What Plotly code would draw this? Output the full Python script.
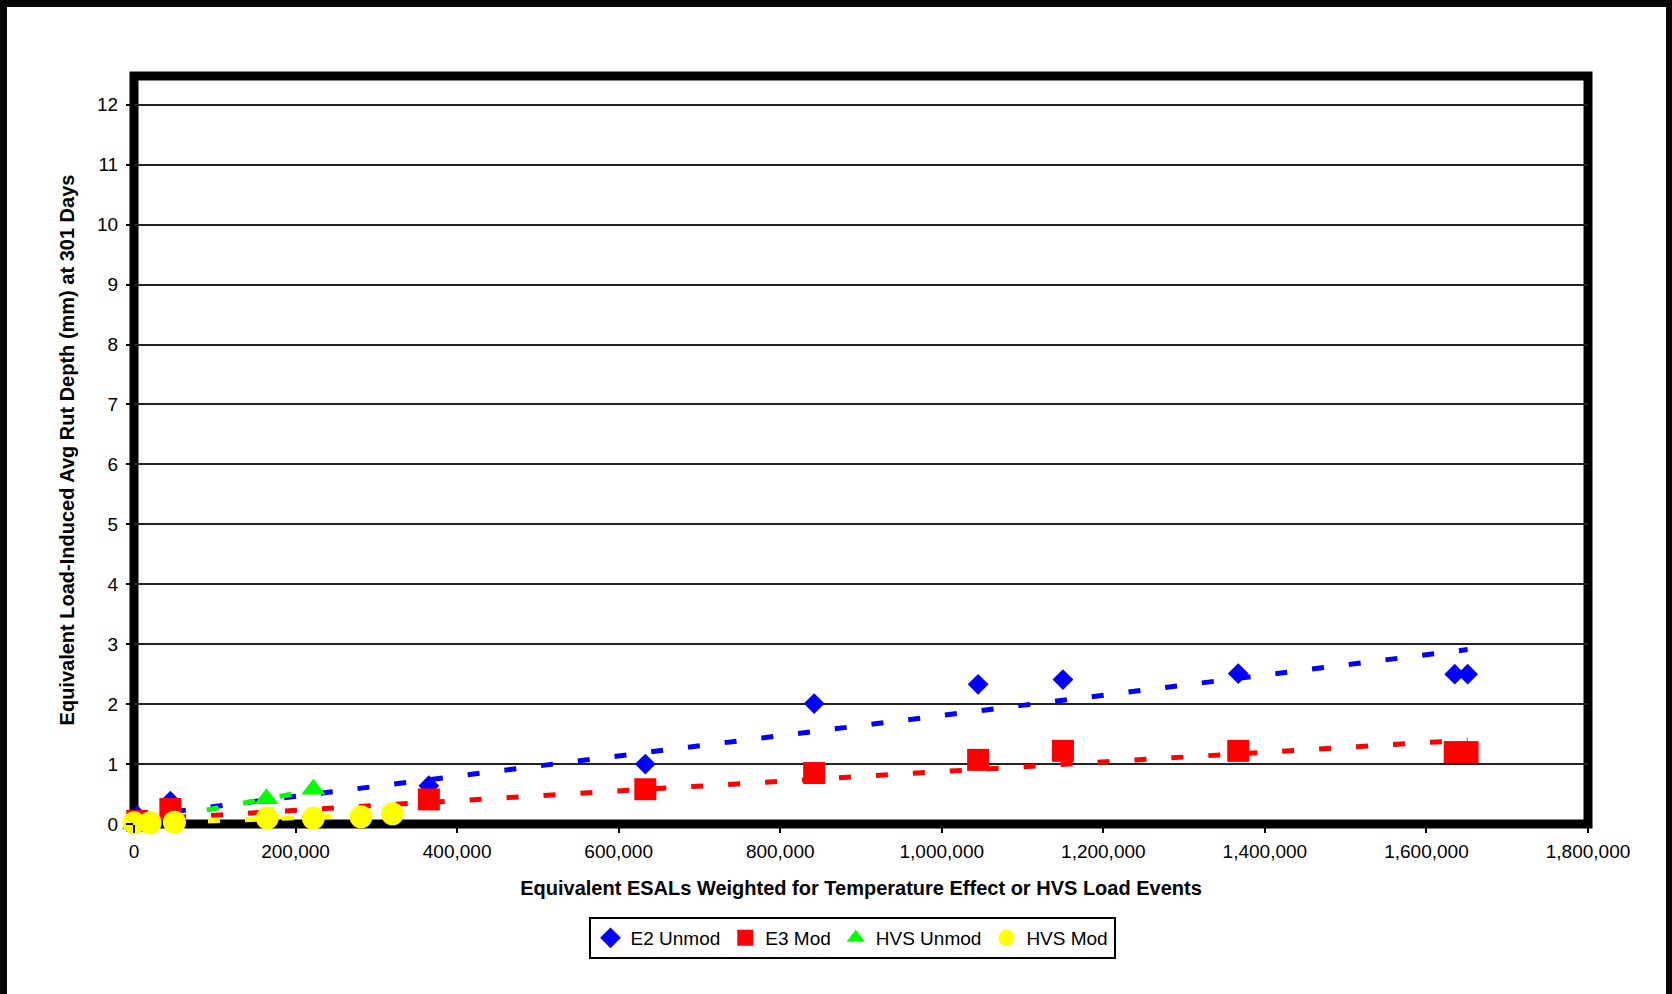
import plotly.graph_objects as go

# ---- data -------------------------------------------------------------
# Equivalent ESALs for the E2 / E3 sections (same load history)
esals_e = [4000, 45000, 365000, 633000, 842000, 1045000, 1150000, 1367000, 1635000, 1651000]
rut_e2_unmod = [0.14, 0.38, 0.64, 1.00, 2.01, 2.33, 2.41, 2.51, 2.50, 2.50]
rut_e3_mod = [0.05, 0.25, 0.41, 0.58, 0.85, 1.07, 1.22, 1.22, 1.20, 1.20]

# HVS load events
hvs_unmod_x = [0, 17000, 164000, 222000]
hvs_unmod_y = [0.00, 0.02, 0.42, 0.58]
hvs_mod_x = [0, 20000, 50000, 165000, 222000, 281000, 320000]
hvs_mod_y = [0.02, 0.02, 0.03, 0.10, 0.10, 0.12, 0.17]

# linear trend lines (end points)
trend_e2_x = [4000, 1651000]
trend_e2_y = [0.13, 2.91]
trend_e3_x = [4000, 1651000]
trend_e3_y = [0.07, 1.40]
trend_hvs_unmod_x = [0, 222000]
trend_hvs_unmod_y = [0.01, 0.565]
trend_hvs_mod_x = [0, 320000]
trend_hvs_mod_y = [0.006, 0.162]

series_names = ["E2 Unmod", "E3 Mod", "HVS Unmod", "HVS Mod"]
colors = ["#0000FF", "#FF0000", "#00FF00", "#FFFF00"]

x_ticks = [0, 200000, 400000, 600000, 800000, 1000000, 1200000, 1400000, 1600000, 1800000]
y_ticks = list(range(0, 13))

x_title = "Equivalent ESALs Weighted for Temperature Effect or HVS Load Events"
y_title = "Equivalent Load-Induced Avg Rut Depth (mm) at 301 Days"

# ---- layout geometry (pixels) -----------------------------------------
W, H = 1672, 994
L, R, T, B = 134, 84, 76, 170
PW, PH = W - L - R, H - T - B


def px_x(px):
    return (px - L) / PW


def px_y(py):
    return (H - B - py) / PH


FONT = "Liberation Sans, Arial, sans-serif"

fig = go.Figure()

# trend lines first so the markers sit on top
trends = [
    (trend_e2_x, trend_e2_y),
    (trend_e3_x, trend_e3_y),
    (trend_hvs_unmod_x, trend_hvs_unmod_y),
    (trend_hvs_mod_x, trend_hvs_mod_y),
]
for (tx, ty), c in zip(trends, colors):
    fig.add_trace(go.Scatter(
        x=tx, y=ty, mode="lines", showlegend=False, hoverinfo="skip",
        line=dict(color=c, width=5, dash="12px,25px"), cliponaxis=False,
    ))

marker_series = [
    (esals_e, rut_e2_unmod, "diamond", 16),
    (esals_e, rut_e3_mod, "square", 22),
    (hvs_unmod_x, hvs_unmod_y, "triangle-up", 21),
    (hvs_mod_x, hvs_mod_y, "circle", 23),
]
for (mx, my, sym, sz), name, c in zip(marker_series, series_names, colors):
    fig.add_trace(go.Scatter(
        x=mx, y=my, mode="markers", name=name, cliponaxis=False,
        marker=dict(symbol=sym, size=sz, color=c, line=dict(width=0)),
    ))

# heavy black frame around the plot area
fig.add_shape(type="rect", xref="paper", yref="paper", x0=0, x1=1, y0=0, y1=1,
              line=dict(color="black", width=9), layer="below")

# dark page edges
edge = "#060606"
fig.add_shape(type="rect", xref="paper", yref="paper", x0=px_x(0), x1=px_x(W),
              y0=px_y(7), y1=px_y(0), fillcolor=edge, line=dict(width=0), layer="above")
fig.add_shape(type="rect", xref="paper", yref="paper", x0=px_x(0), x1=px_x(7),
              y0=px_y(H), y1=px_y(0), fillcolor=edge, line=dict(width=0), layer="above")
fig.add_shape(type="rect", xref="paper", yref="paper", x0=px_x(1666), x1=px_x(W),
              y0=px_y(H), y1=px_y(0), fillcolor=edge, line=dict(width=0), layer="above")

fig.update_layout(
    width=W, height=H,
    margin=dict(l=L, r=R, t=T, b=B, pad=0),
    paper_bgcolor="white",
    plot_bgcolor="rgba(0,0,0,0)",
    font=dict(family=FONT, color="black", size=19),
    showlegend=True,
    legend=dict(
        orientation="h", x=px_x(852), y=px_y(938), xanchor="center", yanchor="middle",
        bordercolor="black", borderwidth=2, bgcolor="white",
        font=dict(family=FONT, size=19, color="black"),
        itemwidth=30, tracegroupgap=0,
    ),
    xaxis=dict(
        range=[0, 1800000], tickvals=x_ticks, tickformat=",",
        showgrid=False, zeroline=False, showline=False,
        ticks="outside", ticklen=8, tickwidth=2, tickcolor="black",
        tickfont=dict(family=FONT, size=19, color="black"),
        ticklabelstandoff=2,
        title=dict(text="<b>" + x_title + "</b>", font=dict(family=FONT, size=20), standoff=20),
        automargin=False,
    ),
    yaxis=dict(
        range=[0, 12.48], tickvals=y_ticks,
        showgrid=True, gridcolor="#222222", gridwidth=2,
        zeroline=False, showline=False,
        ticks="outside", ticklen=7, tickwidth=2, tickcolor="black",
        tickfont=dict(family=FONT, size=19, color="black"),
        ticklabelstandoff=4,
        title=dict(text="<b>" + y_title + "</b>", font=dict(family=FONT, size=20), standoff=17),
        automargin=False,
    ),
)

fig.write_html("out.html")
